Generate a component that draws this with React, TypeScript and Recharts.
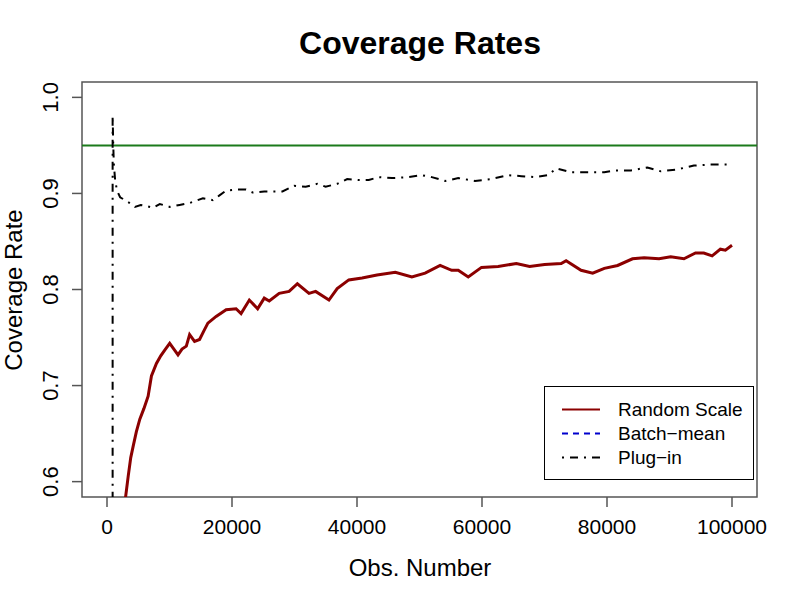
import React from 'react';
import {
  LineChart, Line, XAxis, YAxis, ReferenceLine, ReferenceArea, Legend,
} from 'recharts';

// Random Scale (dark red)
const obsRandom = [
  2800, 3400, 3800, 4190, 4700, 5250, 5900, 6580, 7110, 7910, 8600, 9240,
  10030, 10700, 11360, 12000, 12690, 13220, 14010, 14810, 15500, 16140,
  17460, 19060, 20650, 21450, 22770, 24100, 25160, 25960, 27550, 29140,
  30460, 32320, 33380, 35510, 36830, 38690, 40810, 43200, 46130, 48780,
  50900, 53300, 55150, 56200, 57800, 59920, 62580, 65500, 67620, 70020,
  72670, 73460, 75850, 77710, 79570, 81700, 84080, 85940, 88330, 90190,
  92310, 94160, 95490, 96820, 98140, 98940, 100000,
];
const covRandom = [
  0.575, 0.606, 0.625, 0.637, 0.652, 0.665, 0.676, 0.689, 0.71, 0.723, 0.731, 0.737,
  0.744, 0.738, 0.732, 0.738, 0.741, 0.753, 0.746, 0.748, 0.757, 0.765,
  0.772, 0.779, 0.78, 0.775, 0.789, 0.78, 0.791, 0.788, 0.796, 0.798,
  0.806, 0.796, 0.798, 0.789, 0.801, 0.81, 0.812, 0.815, 0.818, 0.813,
  0.817, 0.825, 0.82, 0.82, 0.813, 0.823, 0.824, 0.827, 0.824, 0.826,
  0.827, 0.83, 0.82, 0.817, 0.822, 0.825, 0.832, 0.833, 0.832, 0.834,
  0.832, 0.838, 0.838, 0.835, 0.842, 0.841, 0.846,
];

// Plug-in (black dot-dash)
const obsPlugin = [
  900, 900, 1000, 1100, 1300, 1600, 2100, 3400, 4460, 5400, 6320, 7300, 8440,
  10030, 11620, 13220, 15340, 16930, 18000, 19060, 20650, 22240, 23300, 25160,
  28070, 29940, 31800, 33650, 34980, 36830, 38430, 40290, 41880, 43470, 45600,
  48250, 50370, 51960, 54100, 56200, 58870, 61520, 64170, 66300, 68420, 70540,
  71870, 74260, 76380, 79570, 81170, 83830, 86460, 88600, 91250, 93900, 96550,
  99200, 100000,
];
const covPlugin = [
  0.55, 0.981, 0.95, 0.93, 0.914, 0.903, 0.896, 0.891, 0.886, 0.888, 0.887, 0.885, 0.889,
  0.886, 0.888, 0.89, 0.895, 0.893, 0.898, 0.903, 0.904, 0.904, 0.901, 0.902,
  0.902, 0.908, 0.907, 0.91, 0.907, 0.91, 0.915, 0.914, 0.914, 0.917, 0.916,
  0.917, 0.919, 0.917, 0.913, 0.916, 0.913, 0.915, 0.919, 0.918, 0.917, 0.919,
  0.926, 0.922, 0.922, 0.922, 0.924, 0.924, 0.927, 0.923, 0.925, 0.929, 0.93,
  0.93, 0.931,
];

const target = 0.95;
const xTicks = [0, 20000, 40000, 60000, 80000, 100000];
const yTicks = [0.6, 0.7, 0.8, 0.9, 1.0];
const xDomain = [-4000, 104000];
const yDomain = [0.584, 1.016];

const legendItems = [
  { name: 'Random Scale', color: '#8b0000', dash: undefined },
  { name: 'Batch\u2212mean', color: '#0000cd', dash: '6 5' },
  { name: 'Plug\u2212in', color: '#000', dash: '2 6 8 6' },
];

const randomData = obsRandom.map((x, i) => ({ x, y: covRandom[i] }));
const pluginData = obsPlugin.map((x, i) => ({ x, y: covPlugin[i] }));

const FONT = '"Liberation Sans", Arial, Helvetica, sans-serif';
const FRAME = '#555';

function XTick({ x, y, payload }: any) {
  return (
    <text x={x} y={y} dy="0.71em" textAnchor="middle" fontSize={21} fill="#000" fontFamily={FONT}>
      {payload.value}
    </text>
  );
}

function YTick({ x, y, payload }: any) {
  return (
    <text x={x} y={y} transform={`rotate(-90, ${x}, ${y})`} textAnchor="middle"
      fontSize={22} fill="#000" fontFamily={FONT}>
      {Number(payload.value).toFixed(1)}
    </text>
  );
}

function LegendBox() {
  return (
    <svg width={210} height={94} style={{ display: 'block' }}>
      <rect x={0.5} y={0.5} width={209} height={93} fill="#fff" stroke="#000" />
      {legendItems.map((it, i) => {
        const y = 23.5 + i * 24;
        return (
          <g key={it.name}>
            <line x1={18} x2={56} y1={y} y2={y} stroke={it.color} strokeWidth={2}
              strokeDasharray={it.dash} />
            <text x={74} y={y} dy="0.35em" fontSize={19} fontFamily={FONT} fill="#000">{it.name}</text>
          </g>
        );
      })}
    </svg>
  );
}

export default function App() {
  return (
    <div style={{ position: 'absolute', left: 0, top: 0, width: 800, height: 600, background: '#fff' }}>
      <LineChart width={800} height={600} margin={{ top: 82, right: 43, bottom: 63, left: 10 }}>
        <XAxis
          type="number"
          dataKey="x"
          domain={xDomain}
          ticks={xTicks}
          allowDataOverflow
          axisLine={false}
          tickSize={10}
          tickMargin={12}
          tickLine={{ stroke: FRAME, strokeWidth: 1.5 }}
          tick={<XTick />}
          height={40}
        />
        <YAxis
          type="number"
          dataKey="y"
          domain={yDomain}
          ticks={yTicks}
          allowDataOverflow
          axisLine={false}
          tickSize={10}
          tickMargin={14}
          tickLine={{ stroke: FRAME, strokeWidth: 1.5 }}
          tick={<YTick />}
          width={72}
        />
        <ReferenceArea x1={xDomain[0]} x2={xDomain[1]} y1={yDomain[0]} y2={yDomain[1]}
          fill="none" fillOpacity={0} stroke={FRAME} strokeWidth={1.5} ifOverflow="visible" />
        <ReferenceLine y={target} stroke="#1b7a1b" strokeWidth={2} />
        <Line data={pluginData} dataKey="y" type="linear" stroke="#000" strokeWidth={2}
          strokeDasharray="2 6 8 6" dot={false} isAnimationActive={false} name="Plug-in" />
        <Line data={randomData} dataKey="y" type="linear" stroke="#8b0000" strokeWidth={3}
          dot={false} isAnimationActive={false} name="Random Scale" />
        <Legend layout="horizontal" verticalAlign="middle" align="center"
          content={<LegendBox />}
          wrapperStyle={{ left: 544, top: 386, width: 210, height: 94 }} />
      </LineChart>
      <svg width={800} height={600} style={{ position: 'absolute', left: 0, top: 0, pointerEvents: 'none' }}
        fontFamily={FONT}>
        <text x={420} y={54} textAnchor="middle" fontSize={32} fontWeight="bold">Coverage Rates</text>
        <text x={420} y={576} textAnchor="middle" fontSize={24}>Obs. Number</text>
        <text x={22} y={290} transform="rotate(-90, 22, 290)" textAnchor="middle" fontSize={24}>Coverage Rate</text>
      </svg>
    </div>
  );
}
